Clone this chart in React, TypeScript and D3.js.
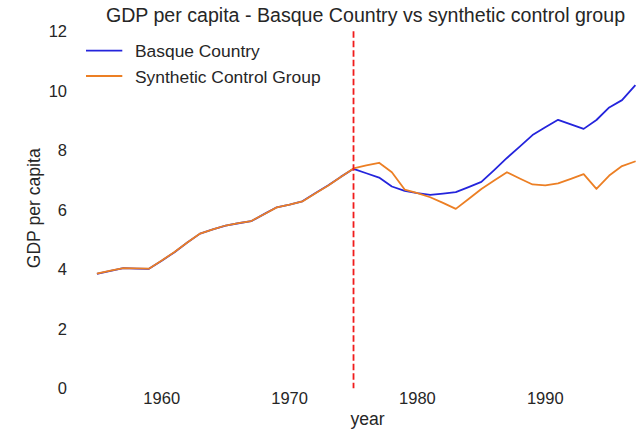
import React from "react";
import * as d3 from "d3";

const years: number[] = d3.range(1955, 1998);

const basque: number[] = [
  3.853, 3.946, 4.034, 4.023, 4.014, 4.285, 4.574, 4.898, 5.197, 5.338,
  5.466, 5.546, 5.615, 5.853, 6.082, 6.17, 6.283, 6.555, 6.812, 7.105,
  7.376, 7.227, 7.081, 6.782, 6.636, 6.562, 6.5, 6.545, 6.595, 6.761,
  6.937, 7.332, 7.741, 8.12, 8.51, 8.776, 9.025, 8.873, 8.719, 9.018,
  9.44, 9.686, 10.17,
];

const synthetic: number[] = [
  3.86, 3.95, 4.04, 4.03, 4.02, 4.29, 4.58, 4.9, 5.2, 5.34,
  5.47, 5.55, 5.62, 5.85, 6.08, 6.17, 6.28, 6.55, 6.81, 7.1,
  7.39, 7.49, 7.58, 7.26, 6.68, 6.56, 6.42, 6.23, 6.03, 6.36,
  6.7, 6.98, 7.26, 7.05, 6.85, 6.82, 6.89, 7.04, 7.2, 6.7,
  7.15, 7.47, 7.62,
];

const xTicks: number[] = [1960, 1970, 1980, 1990];
const yTicks: number[] = [0, 2, 4, 6, 8, 10, 12];
const treatmentYear = 1975;

const seriesNames: string[] = ["Basque Country", "Synthetic Control Group"];
const seriesColors: string[] = ["#2424dc", "#ec7f24"];

const TEXT = "#262626";
const FONT = "'Liberation Sans', Arial, sans-serif";

export default function App() {
  const W = 641;
  const H = 442;
  const x = d3.scaleLinear().domain([1955, 1997]).range([97.8, 634.8]);
  const y = d3.scaleLinear().domain([0, 12]).range([388.2, 31.3]);

  const line = d3
    .line<[number, number]>()
    .x((d) => x(d[0]))
    .y((d) => y(d[1]));

  const seriesData = [basque, synthetic].map((vals) =>
    years.map((yr, i) => [yr, vals[i]] as [number, number])
  );

  return (
    <svg
      width={W}
      height={H}
      viewBox={`0 0 ${W} ${H}`}
      style={{ position: "absolute", left: 0, top: 0, background: "#fff" }}
      fontFamily={FONT}
    >
      <rect x={0} y={0} width={W} height={H} fill="#fff" />
      {/* title */}
      <text x={365.5} y={21.7} textAnchor="middle" fontSize={19.6} fill={TEXT}>
        GDP per capita - Basque Country vs synthetic control group
      </text>

      {/* y ticks */}
      {yTicks.map((t) => (
        <text
          key={"y" + t}
          x={67}
          y={y(t) + 5.8}
          textAnchor="end"
          fontSize={16.5}
          fill={TEXT}
        >
          {t}
        </text>
      ))}

      {/* x ticks */}
      {xTicks.map((t) => (
        <text
          key={"x" + t}
          x={x(t)}
          y={404}
          textAnchor="middle"
          fontSize={16.5}
          fill={TEXT}
        >
          {t}
        </text>
      ))}

      {/* axis labels */}
      <text x={367.5} y={425} textAnchor="middle" fontSize={17.6} fill={TEXT}>
        year
      </text>
      <text
        transform={`translate(39.5,208.3) rotate(-90)`}
        textAnchor="middle"
        fontSize={17.6}
        fill={TEXT}
      >
        GDP per capita
      </text>

      {/* lines */}
      {seriesData.map((d, i) => (
        <path
          key={"s" + i}
          d={line(d) || ""}
          fill="none"
          stroke={seriesColors[i]}
          strokeWidth={1.8}
          strokeLinejoin="round"
          strokeLinecap="square"
        />
      ))}

      {/* treatment line */}
      <line
        x1={x(treatmentYear)}
        x2={x(treatmentYear)}
        y1={y(12)}
        y2={y(0)}
        stroke="#f01c1c"
        strokeWidth={1.8}
        strokeDasharray="6.5,3"
      />

      {/* legend */}
      {seriesNames.map((name, i) => (
        <g key={"l" + i} transform={`translate(0, ${50.7 + i * 25.3})`}>
          <line x1={86} x2={122.3} y1={0} y2={0} stroke={seriesColors[i]} strokeWidth={1.8} />
          <text x={135} y={6.6} fontSize={17.4} fill={TEXT}>
            {name}
          </text>
        </g>
      ))}
    </svg>
  );
}
